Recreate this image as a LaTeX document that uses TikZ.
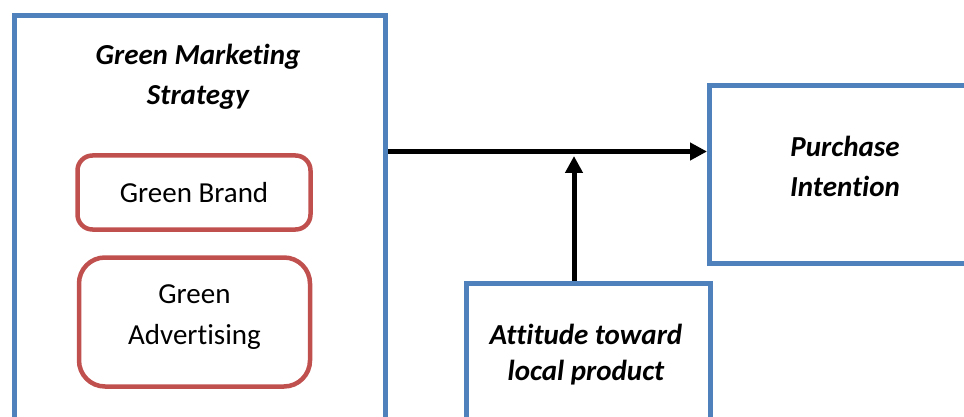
\documentclass[tikz,border=0pt]{standalone}
\usepackage{fontspec}
\setmainfont[Ligatures={NoCommon}]{Carlito}
\usetikzlibrary{arrows.meta}
\definecolor{boxblue}{HTML}{4F81BD}
\definecolor{boxred}{HTML}{C0504D}
\begin{document}
\begin{tikzpicture}[x=1pt,y=-1pt,
  bluebox/.style={draw=boxblue, line width=5pt, rectangle, inner sep=0pt},
  redbox/.style={draw=boxred, line width=4.5pt, rectangle, inner sep=0pt, align=center,
     font=\fontsize{29}{41}\selectfont},
  title/.style={align=center, font=\fontsize{29}{40}\selectfont\bfseries\itshape, inner sep=0pt},
  arr/.style={line width=5pt, -{Triangle[length=17pt,width=17pt]}}]
\useasboundingbox (0,0) rectangle (964,417);
\clip (0,0) rectangle (964,417);
% main boxes
\node[bluebox, anchor=north west, minimum width=371pt, minimum height=440pt] (gms) at (12,13) {};
\node[title] (gmst) at (198,77) {Green Marketing\\Strategy};
\node[redbox, rounded corners=15pt, minimum width=233pt, minimum height=74pt] (gb) at (194,192.5) {Green Brand};
\node[redbox, rounded corners=26pt, minimum width=231pt, minimum height=129pt] (ga) at (194.5,322) {};
\node[align=center, inner sep=0pt, font=\fontsize{29}{41}\selectfont] (gat) at (194.5,317) {Green\\Advertising};
\node[bluebox, anchor=north west, minimum width=276pt, minimum height=178pt] (pi) at (707,83) {};
\node[title] (pit) at (845,166) {Purchase\\Intention};
\node[bluebox, anchor=north west, minimum width=244pt, minimum height=200pt] (att) at (464,281) {};
\node[title, font=\fontsize{29}{36}\selectfont\bfseries\itshape] (attt) at (586,355) {Attitude toward\\local product};
% connectors
\coordinate (hy) at (0,151.5);
\coordinate (vx) at (574,0);
\coordinate (vtip) at (574,156);
\draw[arr] (gms.east |- hy) -- (pi.west |- hy);
\draw[arr] (att.north -| vx) -- (vtip);
\end{tikzpicture}
\end{document}
